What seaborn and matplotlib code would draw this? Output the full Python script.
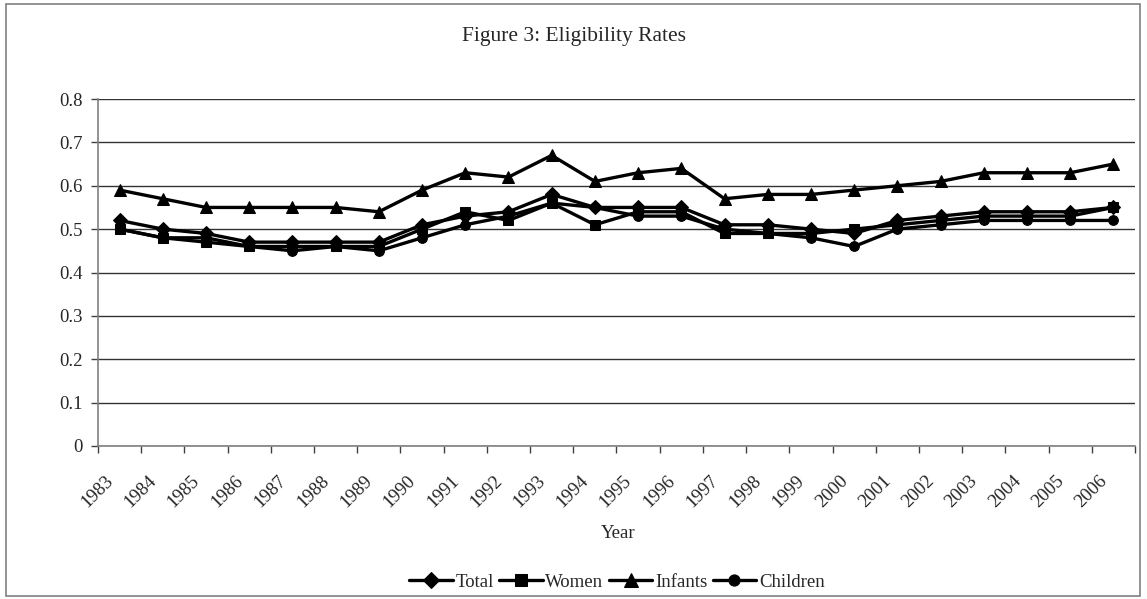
import seaborn as sns
import matplotlib.pyplot as plt
import matplotlib.patches as patches
import matplotlib.transforms as mtransforms
import pandas as pd
import numpy as np

# datos
years = [str(y) for y in range(1983, 2007)]
total = [0.52, 0.50, 0.49, 0.47, 0.47, 0.47, 0.47, 0.51, 0.53, 0.54, 0.58, 0.55,
         0.55, 0.55, 0.51, 0.51, 0.50, 0.49, 0.52, 0.53, 0.54, 0.54, 0.54, 0.55]
women = [0.50, 0.48, 0.47, 0.46, 0.46, 0.46, 0.46, 0.50, 0.54, 0.52, 0.56, 0.51,
         0.54, 0.54, 0.49, 0.49, 0.49, 0.50, 0.51, 0.52, 0.53, 0.53, 0.53, 0.55]
infants = [0.59, 0.57, 0.55, 0.55, 0.55, 0.55, 0.54, 0.59, 0.63, 0.62, 0.67, 0.61,
           0.63, 0.64, 0.57, 0.58, 0.58, 0.59, 0.60, 0.61, 0.63, 0.63, 0.63, 0.65]
children = [0.50, 0.48, 0.48, 0.46, 0.45, 0.46, 0.45, 0.48, 0.51, 0.53, 0.56, 0.55,
            0.53, 0.53, 0.50, 0.49, 0.48, 0.46, 0.50, 0.51, 0.52, 0.52, 0.52, 0.52]
y_ticks = [0, 0.1, 0.2, 0.3, 0.4, 0.5, 0.6, 0.7, 0.8]

series = {'Total': total, 'Women': women, 'Infants': infants, 'Children': children}
markers = {'Total': 'D', 'Women': 's', 'Infants': '^', 'Children': 'o'}
msizes = {'Total': 7, 'Women': 7.5, 'Infants': 8.5, 'Children': 7}

sns.set_style('white')
plt.rcParams['font.family'] = ['Liberation Serif', 'DejaVu Serif']
plt.rcParams['font.size'] = 13

fig = plt.figure(figsize=(11.47, 5.99), dpi=100)
ax = fig.add_axes([98 / 1147, 1 - 446 / 599, (1135 - 98) / 1147, (446 - 99) / 599])

pos = np.arange(len(years))
for name, vals in series.items():
    sns.lineplot(x=pos, y=vals, ax=ax, color='black', linewidth=2.4,
                 marker=markers[name], markersize=msizes[name],
                 markeredgecolor='black', markerfacecolor='black', label=name)

ax.set_xlim(-0.5, len(years) - 0.5)
ax.set_ylim(0, 0.8)
ax.set_yticks(y_ticks)
ax.set_yticklabels(['0'] + [f'{v:.1f}' for v in y_ticks[1:]], fontsize=13.5)
ax.yaxis.grid(True, color='#333333', linewidth=1)
ax.set_axisbelow(True)

# ticks en los limites de categorias, etiquetas en el centro
ax.set_xticks(np.arange(-0.5, len(years)), minor=False)
ax.set_xticklabels([])
ax.set_xticks(pos, minor=True)
ax.set_xticklabels(years, minor=True, rotation=45, ha='right', va='top',
                   rotation_mode='anchor', fontsize=13.5)
ax.tick_params(axis='x', which='major', direction='out', length=5, width=1, color='#404040', bottom=True)
ax.tick_params(axis='x', which='minor', length=0, pad=19)
ax.tick_params(axis='y', direction='out', length=5, width=1, color='#404040', left=True, pad=6)
offset = mtransforms.ScaledTranslation(-15 / 100, 0, fig.dpi_scale_trans)
for lab in ax.get_xticklabels(minor=True):
    lab.set_transform(lab.get_transform() + offset)

for side in ['top', 'right']:
    ax.spines[side].set_visible(False)
for side in ['left', 'bottom']:
    ax.spines[side].set_color('#808080')
    ax.spines[side].set_linewidth(1.2)

ax.set_xlabel('')
ax.set_ylabel('')
fig.text(574 / 1147, 1 - 36 / 599, 'Figure 3: Eligibility Rates', ha='center', va='center', fontsize=15.5)
fig.text(618 / 1147, 1 - 533 / 599, 'Year', ha='center', va='center', fontsize=13.5)

handles, labels = ax.get_legend_handles_labels()
ax.get_legend().remove()
fig.legend(handles, labels, loc='center', bbox_to_anchor=(617 / 1147, 1 - 582 / 599),
           ncol=4, frameon=False, fontsize=13.5, handlelength=2.3, handletextpad=0.15,
           columnspacing=0.3, markerscale=1.15)

# borde exterior del grafico
fig.patches.append(patches.Rectangle((6 / 1147, 3 / 599), 1134 / 1147, 592 / 599,
                                     transform=fig.transFigure, fill=False,
                                     edgecolor='#808080', linewidth=1.2))

fig.savefig('out.png', dpi=100)
